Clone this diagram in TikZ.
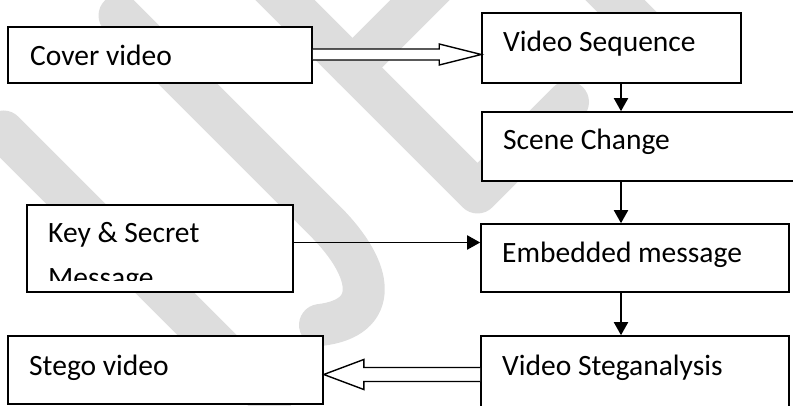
\documentclass[tikz,border=0pt]{standalone}
\usepackage{fontspec}
\setmainfont{Carlito}
\usetikzlibrary{arrows.meta,calc}
\definecolor{wm}{HTML}{DDDDDD}
\begin{document}
\begin{tikzpicture}[x=1pt,y=-1pt,
  box/.style={draw=black,line width=1.6pt,fill=white,rectangle,inner sep=0pt},
  lbl/.style={anchor=base west,inner sep=0pt,font=\fontsize{29.5}{44.5}\selectfont},
  arr/.style={line width=1.9pt,-{Triangle[length=13pt,width=14pt]}},
  blockarrow/.style={draw=black,line width=1.4pt,fill=white,line join=miter},
  wmstroke/.style={draw=wm,line width=42pt,line cap=round,line join=round}]
\useasboundingbox (0,0) rectangle (793,406);
\clip (0,0) rectangle (793,406);
% watermark
\draw[wmstroke] (3.5,131.5) -- (271,399);
\draw[wmstroke] (119.5,15.5) -- (325,221) .. controls (375,271) and (380,318) .. (320,325);
\draw[wmstroke] (210,-75) -- (477.5,192.5) -- (568,102);
\draw[wmstroke] (352.5,67.5) -- (480,-60);
\draw[wmstroke] (375,-240) -- (642.5,27.5);
% boxes
\node[box,minimum width=304pt,minimum height=56pt] (cover) at (160,55) {};
\node[box,minimum width=259pt,minimum height=70pt] (vseq) at (611.5,48) {};
\node[box,minimum width=328pt,minimum height=69pt] (scene) at (646,146.5) {};
\node[box,minimum width=266pt,minimum height=87pt] (key) at (160,248.5) {};
\node[box,minimum width=308pt,minimum height=68pt] (embed) at (635,258) {};
\node[box,minimum width=315pt,minimum height=68pt] (stego) at (165.5,370) {};
\node[box,minimum width=308pt,minimum height=94pt] (steg) at (635,383) {};
% labels
\node[lbl] (tcover) at (30,66) {Cover video};
\node[lbl] (tvseq) at (503,52) {Video Sequence};
\node[lbl] (tscene) at (503,150) {Scene Change};
\node[lbl] (tkey) at (48,243) {Key \& Secret};
\begin{scope}
\clip (27,205) rectangle (293,281);
\node[lbl] (tmsg) at (48,287.5) {Message};
\end{scope}
\node[lbl] (tembed) at (502,263) {Embedded message};
\node[lbl] (tsteg) at (502,375) {Video Steganalysis};
\node[lbl] (tstego) at (29,375) {Stego video};
% connectors
\coordinate (ax) at (621,0);
\coordinate (ay) at (0,242.5);
\draw[arr] (vseq.south -| ax) -- (scene.north -| ax);
\draw[arr] (scene.south -| ax) -- (embed.north -| ax);
\draw[arr] (embed.south -| ax) -- (steg.north -| ax);
\draw[arr] (key.east |- ay) -- (embed.west |- ay);
% block arrow cover -> video sequence
\coordinate (a1s) at ($(cover.east)+(0,-0.5)$);
\coordinate (a1t) at (vseq.west |- a1s);
\draw[blockarrow] ($(a1s)+(0,-5.5)$) -- ($(a1t)+(-42,-5.5)$) -- ($(a1t)+(-42,-10.5)$) -- (a1t) -- ($(a1t)+(-42,10.5)$) -- ($(a1t)+(-42,5.5)$) -- ($(a1s)+(0,5.5)$);
% block arrow steganalysis -> stego video
\coordinate (a2t) at ($(stego.east)+(0,4.5)$);
\coordinate (a2s) at (steg.west |- a2t);
\draw[blockarrow] ($(a2s)+(0,-7)$) -- ($(a2t)+(40,-7)$) -- ($(a2t)+(40,-15)$) -- (a2t) -- ($(a2t)+(40,15)$) -- ($(a2t)+(40,7)$) -- ($(a2s)+(0,7)$);
\end{tikzpicture}
\end{document}
